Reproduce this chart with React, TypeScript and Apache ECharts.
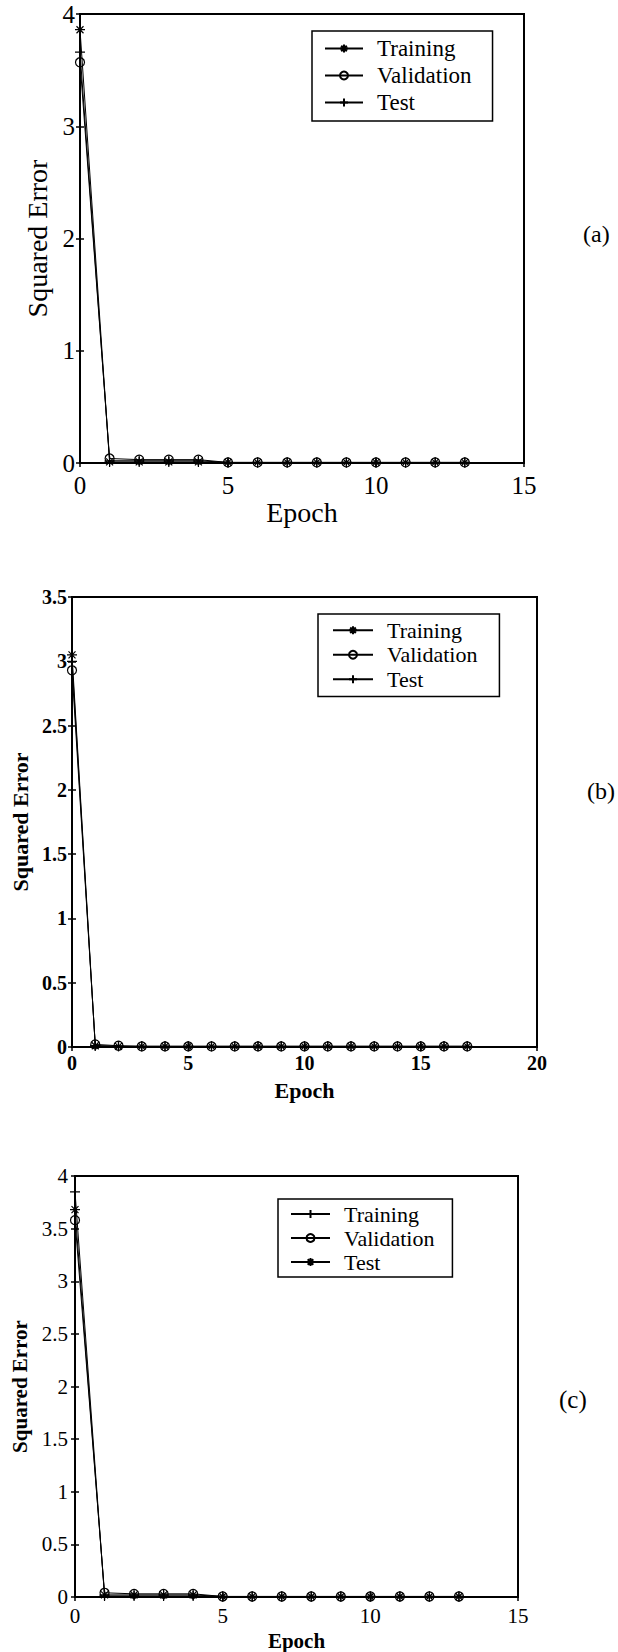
import React, { useEffect, useRef } from "react";
import * as echarts from "echarts";

// ---------- data ----------
const epochsA = [0, 1, 2, 3, 4, 5, 6, 7, 8, 9, 10, 11, 12, 13];
const trainingA = [3.86, 0.01, 0.01, 0.01, 0.01, 0.005, 0.005, 0.005, 0.005, 0.005, 0.005, 0.005, 0.005, 0.005];
const validationA = [3.57, 0.04, 0.03, 0.03, 0.03, 0.005, 0.005, 0.005, 0.005, 0.005, 0.005, 0.005, 0.005, 0.005];
const testA = [3.66, 0.02, 0.02, 0.02, 0.02, 0.005, 0.005, 0.005, 0.005, 0.005, 0.005, 0.005, 0.005, 0.005];

const epochsB = [0, 1, 2, 3, 4, 5, 6, 7, 8, 9, 10, 11, 12, 13, 14, 15, 16, 17];
const trainingB = [3.05, 0.01, 0.005, 0.005, 0.005, 0.005, 0.005, 0.005, 0.005, 0.005, 0.005, 0.005, 0.005, 0.005, 0.005, 0.005, 0.005, 0.005];
const validationB = [2.93, 0.02, 0.01, 0.005, 0.005, 0.005, 0.005, 0.005, 0.005, 0.005, 0.005, 0.005, 0.005, 0.005, 0.005, 0.005, 0.005, 0.005];
const testB = [3.0, 0.01, 0.005, 0.005, 0.005, 0.005, 0.005, 0.005, 0.005, 0.005, 0.005, 0.005, 0.005, 0.005, 0.005, 0.005, 0.005, 0.005];

const epochsC = [0, 1, 2, 3, 4, 5, 6, 7, 8, 9, 10, 11, 12, 13];
const trainingC = [3.85, 0.01, 0.01, 0.01, 0.01, 0.005, 0.005, 0.005, 0.005, 0.005, 0.005, 0.005, 0.005, 0.005];
const validationC = [3.58, 0.04, 0.03, 0.03, 0.03, 0.005, 0.005, 0.005, 0.005, 0.005, 0.005, 0.005, 0.005, 0.005];
const testC = [3.68, 0.02, 0.02, 0.02, 0.02, 0.005, 0.005, 0.005, 0.005, 0.005, 0.005, 0.005, 0.005, 0.005];

const seriesNames = ["Training", "Validation", "Test"];
const xAxisName = "Epoch";
const yAxisName = "Squared Error";
const panelTags = ["(a)", "(b)", "(c)"];

// ---------- styles ----------
const FONT = "Liberation Serif, serif";
const PLUS = "path://M0,-1L0,1M-1,0L1,0";
const STAR = "path://M0,-1L0,1M-1,0L1,0M-0.7,-0.7L0.7,0.7M-0.7,0.7L0.7,-0.7";
const CIRCLE = "circle";

const panels = [
  {
    key: "a",
    epochs: epochsA,
    values: [trainingA, validationA, testA],
    symbols: [STAR, CIRCLE, PLUS],
    grid: { left: 80, top: 14, width: 444, height: 449 },
    xMax: 15, xInt: 5, yMax: 4, yInt: 1,
    tickFont: 25, tickBold: "normal",
    nameFont: 28, nameBold: "normal",
    xLabelMargin: 10, yLabelMargin: 5, xNameGap: 23, yNameGap: 25,
    legend: { left: 312, top: 31, font: 23, lh: 27, pad: [4, 21, 5, 12], itemWidth: 38, textPad: 9 },
    tag: { x: 583, y: 234, font: 24 },
  },
  {
    key: "b",
    epochs: epochsB,
    values: [trainingB, validationB, testB],
    symbols: [STAR, CIRCLE, PLUS],
    grid: { left: 72, top: 597, width: 465, height: 450 },
    xMax: 20, xInt: 5, yMax: 3.5, yInt: 0.5,
    tickFont: 20, tickBold: "bold",
    nameFont: 22, nameBold: "bold",
    xLabelMargin: 6, yLabelMargin: 5, xNameGap: 32, yNameGap: 41,
    legend: { left: 318, top: 614, font: 22, lh: 24.5, pad: [4, 22, 5, 14], itemWidth: 40, textPad: 9 },
    tag: { x: 587, y: 791, font: 24 },
  },
  {
    key: "c",
    epochs: epochsC,
    values: [trainingC, validationC, testC],
    symbols: [PLUS, CIRCLE, STAR],
    grid: { left: 75, top: 1176, width: 443, height: 422 },
    xMax: 15, xInt: 5, yMax: 4, yInt: 0.5,
    tickFont: 21, tickBold: "normal",
    nameFont: 21, nameBold: "bold",
    xLabelMargin: 8, yLabelMargin: 7, xNameGap: 33, yNameGap: 40,
    legend: { left: 278, top: 1199, font: 22, lh: 24, pad: [3, 18, 3, 12], itemWidth: 39, textPad: 9 },
    tag: { x: 559, y: 1399, font: 25 },
  },
];

function buildOption() {
  const grids: any[] = [];
  const xAxes: any[] = [];
  const yAxes: any[] = [];
  const series: any[] = [];
  const legends: any[] = [];
  const graphics: any[] = [];
  const black = "#000";

  panels.forEach((p, k) => {
    grids.push({
      ...p.grid,
      show: true,
      borderColor: black,
      borderWidth: 2,
      backgroundColor: "transparent",
      containLabel: false,
    });
    const tickStyle = { inside: true, length: 4, lineStyle: { color: black, width: 1.5 } };
    const labelStyle = {
      color: black,
      fontFamily: FONT,
      fontSize: p.tickFont,
      fontWeight: p.tickBold,
    };
    const nameStyle = { color: black, fontFamily: FONT, fontSize: p.nameFont, fontWeight: p.nameBold };
    xAxes.push({
      gridIndex: k,
      type: "value",
      position: "bottom",
      min: 0,
      max: p.xMax,
      interval: p.xInt,
      axisLine: { show: true, lineStyle: { color: black, width: 2 } },
      axisTick: tickStyle,
      axisLabel: { ...labelStyle, margin: p.xLabelMargin },
      splitLine: { show: false },
      name: xAxisName,
      nameLocation: "middle",
      nameGap: p.xNameGap,
      nameTextStyle: nameStyle,
    });
    xAxes.push({
      gridIndex: k,
      type: "value",
      position: "top",
      min: 0,
      max: p.xMax,
      interval: p.xInt,
      axisLine: { show: false },
      axisTick: tickStyle,
      axisLabel: { show: false },
      splitLine: { show: false },
    });
    yAxes.push({
      gridIndex: k,
      type: "value",
      position: "left",
      min: 0,
      max: p.yMax,
      interval: p.yInt,
      axisLine: { show: true, lineStyle: { color: black, width: 2 } },
      axisTick: tickStyle,
      axisLabel: { ...labelStyle, margin: p.yLabelMargin },
      splitLine: { show: false },
      name: yAxisName,
      nameLocation: "middle",
      nameGap: p.yNameGap,
      nameTextStyle: nameStyle,
    });
    yAxes.push({
      gridIndex: k,
      type: "value",
      position: "right",
      min: 0,
      max: p.yMax,
      interval: p.yInt,
      axisLine: { show: false },
      axisTick: tickStyle,
      axisLabel: { show: false },
      splitLine: { show: false },
    });

    const legendData: string[] = [];
    seriesNames.forEach((nm, i) => {
      const full = p.key + ":" + nm;
      legendData.push(full);
      const isCircle = p.symbols[i] === CIRCLE;
      series.push({
        type: "line",
        name: full,
        xAxisIndex: 2 * k,
        yAxisIndex: 2 * k,
        data: p.epochs.map((e, j) => [e, p.values[i][j]]),
        symbol: p.symbols[i],
        symbolSize: isCircle ? 9 : 10,
        showSymbol: true,
        showAllSymbol: true,
        lineStyle: { color: black, width: 1 },
        itemStyle: {
          color: "rgba(255,255,255,0)",
          borderColor: black,
          borderWidth: 1.2,
        },
        emphasis: { disabled: true },
        z: 3 + i,
      });
    });

    legends.push({
      orient: "vertical",
      left: p.legend.left,
      top: p.legend.top,
      data: legendData,
      formatter: (n: string) => n.split(":")[1],
      itemWidth: p.legend.itemWidth,
      itemHeight: 10,
      itemGap: 0,
      padding: p.legend.pad,
      borderColor: black,
      borderWidth: 1.5,
      backgroundColor: "#fff",
      selectedMode: false,
      textStyle: {
        color: black,
        fontFamily: FONT,
        fontSize: p.legend.font,
        lineHeight: p.legend.lh,
        padding: [0, 0, 0, p.legend.textPad],
      },
    });

    graphics.push({
      type: "text",
      x: p.tag.x,
      y: p.tag.y,
      style: {
        text: panelTags[k],
        fill: black,
        font: `${p.tag.font}px ${FONT}`,
        textVerticalAlign: "middle",
        verticalAlign: "middle",
      },
    });
  });

  return {
    animation: false,
    backgroundColor: "#fff",
    grid: grids,
    xAxis: xAxes,
    yAxis: yAxes,
    series,
    legend: legends,
    graphic: graphics,
  };
}

export default function App() {
  const ref = useRef<HTMLDivElement>(null);
  useEffect(() => {
    if (!ref.current) return;
    const chart = echarts.init(ref.current, null, { renderer: "svg" });
    chart.setOption(buildOption() as any);
    return () => chart.dispose();
  }, []);
  return (
    <div
      ref={ref}
      style={{ position: "absolute", left: 0, top: 0, width: 618, height: 1652, background: "#fff" }}
    />
  );
}
